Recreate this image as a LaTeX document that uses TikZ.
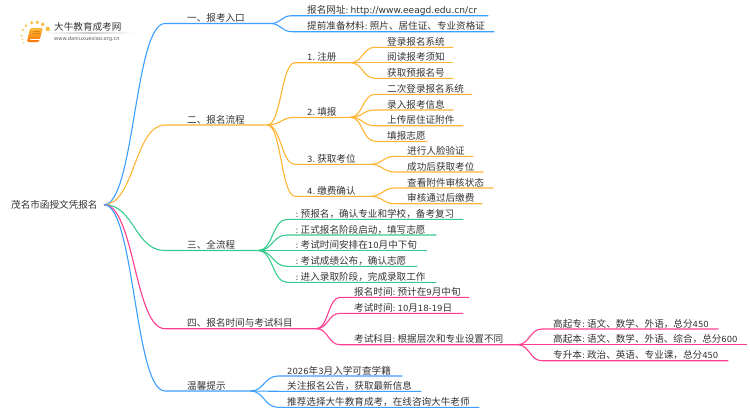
\documentclass[tikz,border=0pt]{standalone}
\usepackage{fontspec}
\setmainfont{Noto Sans CJK SC}
\newfontfamily\latn{DejaVu Sans}[Scale=0.88]
\newfontfamily\urlfont{DejaVu Sans}[Scale=0.95]
\usetikzlibrary{calc}
\definecolor{bblue}{HTML}{3C9EFF}
\definecolor{borange}{HTML}{FFB433}
\definecolor{bgreen}{HTML}{34CB8C}
\definecolor{bpink}{HTML}{FF3D8E}
\definecolor{inktext}{HTML}{333333}
\definecolor{bookgold}{HTML}{F9BC3C}
\newcommand{\cln}{{\latn:}\hspace{2.2pt}}
\tikzset{
  stem/.style={inner sep=0pt,anchor=south west,text height=8pt,text depth=1.8pt,
    font=\fontsize{9.6}{10}\selectfont,text=inktext,align=left},
  limb/.style={line width=1.1pt}
}
\begin{document}
\begin{tikzpicture}[x=1pt,y=-1pt]
    \useasboundingbox (0,0) rectangle (750,410);
    % logo
    \foreach \x/\y/\r in {47.7/29/2.2,42.7/24.3/1.9,37.3/22.3/1.8,31.7/22.7/1.6,26/25.7/1.4,22.7/30/1.1,21.7/35.7/1,22.3/39.3/.8,23.3/42.7/.7}
      \fill[bookgold] (\x,\y) circle (\r);
    \shade[top color=bookgold,bottom color=orange!90!red,rounded corners=1.5pt] (30,28) -- (43,28) -- (39,42) -- (27,42) -- cycle;
    \draw[white,line width=.5pt] (30,39.5) -- (39.5,39.5);
    \draw[orange!60!brown,line width=.5pt] (33,31) -- (40,31) (32.5,33) -- (39.5,33);
    \shade[left color=white,right color=white,middle color=black!20] (45,32.8) rectangle (133,33.5);
    \node (logoname) [inner sep=0pt,anchor=west,text=inktext,font=\fontsize{9.6}{10}\selectfont] at (54,27) {大牛教育成考网};
    \node (logourl) [inner sep=0pt,anchor=west,text=black!65,font=\latn\fontsize{5.8}{6}\selectfont] at (54,38.7) {www.daniuxuexiao.org.cn};

    \node (root) [inner sep=0pt,anchor=west,text=inktext,font=\fontsize{9.6}{10}\selectfont] at (11,205) {茂名市函授文凭报名};
    \coordinate (root-end) at (104,204.7);

    \foreach \nm/\up/\xa/\xb/\y/\xt/\col/\txt in {
      a/root/165/270/23.5/187/bblue/{一、报考入口},
      a1/a/292/488/15.7/307/bblue/{报名网址\cln{\urlfont http://www.eeagd.edu.cn/cr}},
      a2/a/292/494/31.7/307/bblue/{提前准备材料\cln 照片、居住证、专业资格证},
      b/root/165/267/125/187/borange/{二、报名流程},
      b1/b/295/350/62.7/307/borange/{{\latn 1.}\hspace{2pt}注册},
      b11/b1/375/453/47.3/387/borange/{登录报名系统},
      b12/b1/375/453/62.7/387/borange/{阅读报考须知},
      b13/b1/375/453/78.3/387/borange/{获取预报名号},
      b2/b/295/350/117.3/307/borange/{{\latn 2.}\hspace{2pt}填报},
      b21/b2/375/472/94.3/387/borange/{二次登录报名系统},
      b22/b2/375/453/110/387/borange/{录入报考信息},
      b23/b2/375/463/125.7/387/borange/{上传居住证附件},
      b24/b2/375/427/141.3/387/borange/{填报志愿},
      b3/b/295/370/164.3/307/borange/{{\latn 3.}\hspace{2pt}获取考位},
      b31/b3/395/473/156.3/407/borange/{进行人脸验证},
      b32/b3/395/483/172/407/borange/{成功后获取考位},
      b4/b/295/370/196.3/307/borange/{{\latn 4.}\hspace{2pt}缴费确认},
      b41/b4/395/493/188/407/borange/{查看附件审核状态},
      b42/b4/395/482/203.7/407/borange/{审核通过后缴费},
      c/root/165/258/250.5/187/bgreen/{三、全流程},
      c1/c/287/463/219.3/295.5/bgreen/{\cln 预报名，确认专业和学校，备考复习},
      c2/c/287/436/235/295.5/bgreen/{\cln 正式报名阶段启动，填写志愿},
      c3/c/287/427/250.5/295.5/bgreen/{\cln 考试时间安排在{\latn 10}月中下旬},
      c4/c/287/417/266.3/295.5/bgreen/{\cln 考试成绩公布，确认志愿},
      c5/c/287/436/282.3/295.5/bgreen/{\cln 进入录取阶段，完成录取工作},
      d/root/165/316/328.7/187/bpink/{四、报名时间与考试科目},
      d1/d/340/469/297.3/354/bpink/{报名时间\cln 预计在{\latn 9}月中旬},
      d2/d/340/463/313.3/354/bpink/{考试时间\cln{\latn 10}月{\latn 18-19}日},
      d3/d/340/517/344.7/354/bpink/{考试科目\cln 根据层次和专业设置不同},
      d31/d3/542/718/329/553/bpink/{高起专\cln 语文、数学、外语，总分{\latn 450}},
      d32/d3/542/747/344.7/553/bpink/{高起本\cln 语文、数学、外语、综合，总分{\latn 600}},
      d33/d3/542/728/360.7/553/bpink/{专升本\cln 政治、英语、专业课，总分{\latn 450}},
      e/root/165/250/391/187/bblue/{温馨提示},
      e1/e/278/402/376/287/bblue/{{\latn 2026}年{\latn 3}月入学可查学籍},
      e2/e/278/421/391.3/287/bblue/{关注报名公告，获取最新信息},
      e3/e/278/479/407.3/287/bblue/{推荐选择大牛教育成考，在线咨询大牛老师}
    }{
      \node (\nm) [stem,text width={(\xb-\xa)*1pt}] at (\xa,\y) {\hspace*{\dimexpr\xt pt-\xa pt\relax}\txt};
      \coordinate (\nm-end) at (\nm.south east);
      \draw[limb,\col] let \p1=(\up-end), \p2=(\nm.south west), \n1={.5*(\x2-\x1)} in
        (\p1) .. controls +(\n1,0) and +(-\n1,0) .. (\p2) -- (\nm.south east);
    }
 \end{tikzpicture}
\end{document}
